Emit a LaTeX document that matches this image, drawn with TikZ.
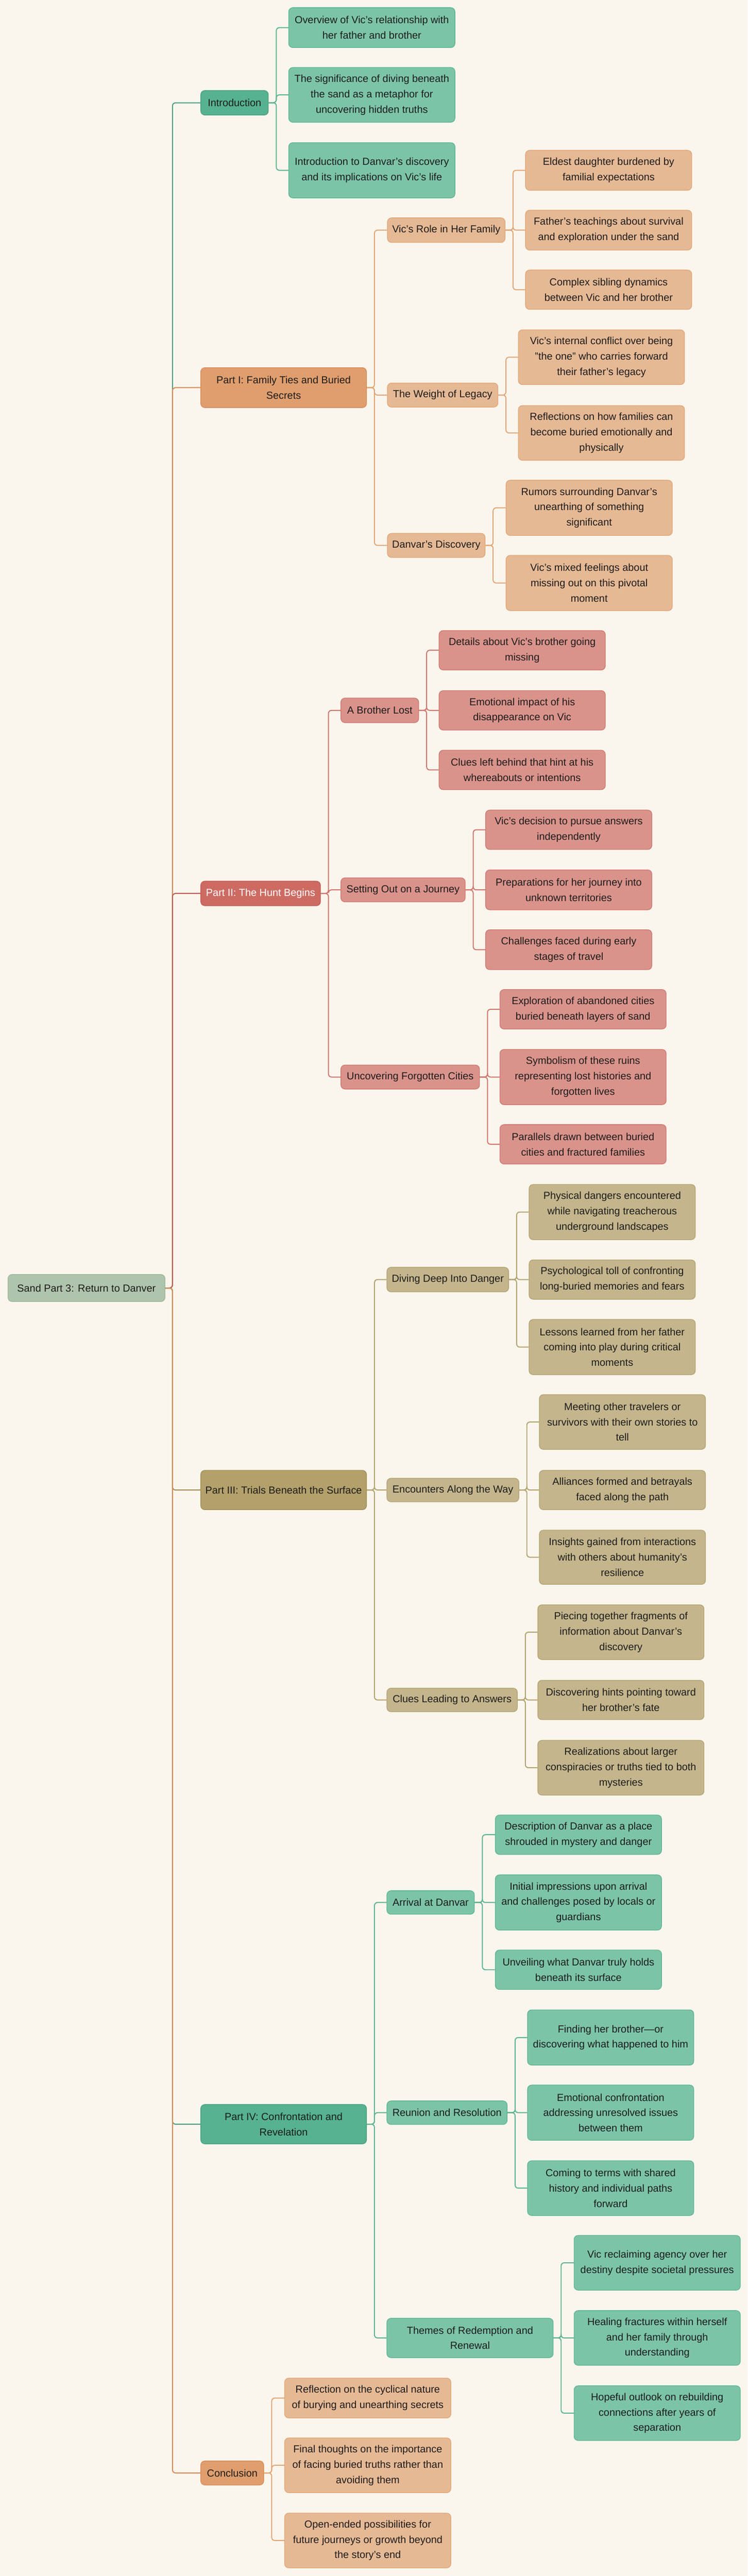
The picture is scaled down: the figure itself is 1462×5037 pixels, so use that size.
\documentclass[tikz,border=0pt]{standalone}
\usepackage{fontspec}
\setmainfont{Liberation Sans}
\definecolor{bgc}{HTML}{FAF6EE}
\definecolor{txt}{HTML}{1C1C1C}
\definecolor{rootF}{HTML}{AFC4AC}
\definecolor{rootD}{HTML}{9EB89B}
\definecolor{gM}{HTML}{56B290}
\definecolor{gMD}{HTML}{4CA07F}
\definecolor{gL}{HTML}{7CC4A8}
\definecolor{gLD}{HTML}{5DB592}
\definecolor{oM}{HTML}{E09E6E}
\definecolor{oMD}{HTML}{D98B55}
\definecolor{oL}{HTML}{E6B995}
\definecolor{oLD}{HTML}{E2A674}
\definecolor{rM}{HTML}{CD6B63}
\definecolor{rMD}{HTML}{C45A52}
\definecolor{rL}{HTML}{DA938B}
\definecolor{rLD}{HTML}{D2766D}
\definecolor{kM}{HTML}{B3A06A}
\definecolor{kMD}{HTML}{A38F57}
\definecolor{kL}{HTML}{C4B58C}
\definecolor{kLD}{HTML}{B3A46F}
\newcommand\fsz{\fontsize{20pt}{30pt}\selectfont}
\begin{document}
\begin{tikzpicture}[x=1pt,y=-1pt,
  box/.style={rectangle, rounded corners=8pt, line width=1.3pt, align=center,
    inner xsep=5pt, inner ysep=0pt, anchor=west, font=\fsz, text=txt},
  rootbox/.style={box, fill=rootF, draw=rootD},
  mG/.style={box, fill=gM, draw=gMD},
  lG/.style={box, fill=gL, draw=gLD},
  mO/.style={box, fill=oM, draw=oMD},
  lO/.style={box, fill=oL, draw=oLD},
  mR/.style={box, fill=rM, draw=rMD, text=white},
  lR/.style={box, fill=rL, draw=rLD},
  mK/.style={box, fill=kM, draw=kMD},
  lK/.style={box, fill=kL, draw=kLD},
  leaf/.style={minimum width=325pt},
  conn/.style={line width=2pt, rounded corners=6pt}
]
\fill[bgc] (0,0) rectangle (1462,5037);
\useasboundingbox (0,0) rectangle (1462,5037);

% ---------------- nodes ----------------
\node[rootbox, minimum width=307pt, minimum height=53pt] (root) at (15,2518.5) {Sand Part 3: Return to Danver};

% Introduction
\node[mG, minimum width=132pt, minimum height=48pt] (intro) at (392,201) {Introduction};
\node[lG, leaf, minimum height=78pt] (i1) at (564,54) {Overview of Vic's relationship with\\her father and brother};
\node[lG, leaf, minimum height=107pt] (i2) at (564,185.5) {The significance of diving beneath\\the sand as a metaphor for\\uncovering hidden truths};
\node[lG, leaf, minimum height=108pt] (i3) at (564,333) {Introduction to Danvar’s discovery\\and its implications on Vic's life};

% Part I
\node[mO, minimum width=324pt, minimum height=78pt] (p1) at (392,758) {Part I: Family Ties and Buried\\Secrets};
\node[lO, minimum width=230pt, minimum height=48pt] (p1a) at (757,450) {Vic's Role in Her Family};
\node[lO, leaf, minimum height=78pt] (p1a1) at (1027,333) {Eldest daughter burdened by\\familial expectations};
\node[lO, leaf, minimum height=78pt] (p1a2) at (1027,450) {Father’s teachings about survival\\and exploration under the sand};
\node[lO, leaf, minimum height=77pt] (p1a3) at (1027,566.5) {Complex sibling dynamics\\between Vic and her brother};
\node[lO, minimum width=216pt, minimum height=47pt] (p1b) at (757,772.5) {The Weight of Legacy};
\node[lO, leaf, minimum height=107pt] (p1b1) at (1013,698.5) {Vic's internal conflict over being\\"the one" who carries forward\\their father’s legacy};
\node[lO, leaf, minimum height=107pt] (p1b2) at (1013,846.5) {Reflections on how families can\\become buried emotionally and\\physically};
\node[lO, minimum width=191pt, minimum height=47pt] (p1c) at (757,1066.5) {Danvar’s Discovery};
\node[lO, leaf, minimum height=108pt] (p1c1) at (989,993) {Rumors surrounding Danvar’s\\unearthing of something\\significant};
\node[lO, leaf, minimum height=108pt] (p1c2) at (989,1140) {Vic’s mixed feelings about\\missing out on this pivotal\\moment};

% Part II
\node[mR, minimum width=234pt, minimum height=48pt] (p2) at (392,1747) {Part II: The Hunt Begins};
\node[lR, minimum width=152pt, minimum height=48pt] (p2a) at (666,1389) {A Brother Lost};
\node[lR, leaf, minimum height=77pt] (p2a1) at (858,1271.5) {Details about Vic’s brother going\\missing};
\node[lR, leaf, minimum height=77pt] (p2a2) at (858,1389) {Emotional impact of his\\disappearance on Vic};
\node[lR, leaf, minimum height=77pt] (p2a3) at (858,1505.5) {Clues left behind that hint at his\\whereabouts or intentions};
\node[lR, minimum width=243pt, minimum height=47pt] (p2b) at (666,1740) {Setting Out on a Journey};
\node[lR, leaf, minimum height=77pt] (p2b1) at (949,1622.5) {Vic’s decision to pursue answers\\independently};
\node[lR, leaf, minimum height=78pt] (p2b2) at (949,1740) {Preparations for her journey into\\unknown territories};
\node[lR, leaf, minimum height=78pt] (p2b3) at (949,1857) {Challenges faced during early\\stages of travel};
\node[lR, minimum width=271pt, minimum height=47pt] (p2c) at (666,2106) {Uncovering Forgotten Cities};
\node[lR, leaf, minimum height=77pt] (p2c1) at (977,1973.5) {Exploration of abandoned cities\\buried beneath layers of sand};
\node[lR, leaf, minimum height=108pt] (p2c2) at (977,2106) {Symbolism of these ruins\\representing lost histories and\\forgotten lives};
\node[lR, leaf, minimum height=77pt] (p2c3) at (977,2237.5) {Parallels drawn between buried\\cities and fractured families};

% Part III
\node[mK, minimum width=324pt, minimum height=77pt] (p3) at (392,2913.5) {Part III: Trials Beneath the Surface};
\node[lK, minimum width=238pt, minimum height=48pt] (p3a) at (756,2502) {Diving Deep Into Danger};
\node[lK, leaf, minimum height=108pt] (p3a1) at (1034,2370) {Physical dangers encountered\\while navigating treacherous\\underground landscapes};
\node[lK, leaf, minimum height=77pt] (p3a2) at (1034,2502) {Psychological toll of confronting\\long-buried memories and fears};
\node[lK, leaf, minimum height=108pt] (p3a3) at (1034,2634) {Lessons learned from her father\\coming into play during critical\\moments};
\node[lK, minimum width=258pt, minimum height=46pt] (p3b) at (756,2913.5) {Encounters Along the Way};
\node[lK, leaf, minimum height=107pt] (p3b1) at (1054,2780.5) {Meeting other travelers or\\survivors with their own stories to\\tell};
\node[lK, leaf, minimum height=77pt] (p3b2) at (1054,2913.5) {Alliances formed and betrayals\\faced along the path};
\node[lK, leaf, minimum height=106pt] (p3b3) at (1054,3045) {Insights gained from interactions\\with others about humanity’s\\resilience};
\node[lK, minimum width=255pt, minimum height=46pt] (p3c) at (756,3324) {Clues Leading to Answers};
\node[lK, leaf, minimum height=107pt] (p3c1) at (1051,3191.5) {Piecing together fragments of\\information about Danvar’s\\discovery};
\node[lK, leaf, minimum height=77pt] (p3c2) at (1051,3324) {Discovering hints pointing toward\\her brother’s fate};
\node[lK, leaf, minimum height=107pt] (p3c3) at (1051,3456.5) {Realizations about larger\\conspiracies or truths tied to both\\mysteries};

% Part IV
\node[mG, minimum width=324pt, minimum height=77pt] (p4) at (392,4153.5) {Part IV: Confrontation and\\Revelation};
\node[lG, minimum width=171pt, minimum height=46pt] (p4a) at (756,3720) {Arrival at Danvar};
\node[lG, leaf, minimum height=77pt] (p4a1) at (968,3587.5) {Description of Danvar as a place\\shrouded in mystery and danger};
\node[lG, leaf, minimum height=108pt] (p4a2) at (968,3720) {Initial impressions upon arrival\\and challenges posed by locals or\\guardians};
\node[lG, leaf, minimum height=77pt] (p4a3) at (968,3851.5) {Unveiling what Danvar truly holds\\beneath its surface};
\node[lG, minimum width=235pt, minimum height=46pt] (p4b) at (756,4131) {Reunion and Resolution};
\node[lG, leaf, minimum height=108pt] (p4b1) at (1031,3984) {Finding her brother—or\\discovering what happened to him};
\node[lG, leaf, minimum height=108pt] (p4b2) at (1031,4131) {Emotional confrontation\\addressing unresolved issues\\between them};
\node[lG, leaf, minimum height=107pt] (p4b3) at (1031,4278.5) {Coming to terms with shared\\history and individual paths\\forward};
\node[lG, minimum width=325pt, minimum height=77pt] (p4c) at (756,4571.5) {Themes of Redemption and\\Renewal};
\node[lG, leaf, minimum height=107pt] (p4c1) at (1122,4424.5) {Vic reclaiming agency over her\\destiny despite societal pressures};
\node[lG, leaf, minimum height=107pt] (p4c2) at (1122,4571.5) {Healing fractures within herself\\and her family through\\understanding};
\node[lG, leaf, minimum height=107pt] (p4c3) at (1122,4718.5) {Hopeful outlook on rebuilding\\connections after years of\\separation};

% Conclusion
\node[mO, minimum width=123pt, minimum height=47pt] (con) at (392,4835.5) {Conclusion};
\node[lO, leaf, minimum height=78pt] (con1) at (556,4689) {Reflection on the cyclical nature\\of burying and unearthing secrets};
\node[lO, leaf, minimum height=107pt] (con2) at (556,4820.5) {Final thoughts on the importance\\of facing buried truths rather than\\avoiding them};
\node[lO, leaf, minimum height=107pt] (con3) at (556,4967.5) {Open-ended possibilities for\\future journeys or growth beyond\\the story’s end};

% ---------------- connectors ----------------
\draw[conn, gMD] (root.east) -- ++(14,0) |- (intro.west);
\draw[conn, oMD] (root.east) -- ++(14,0) |- (p1.west);
\draw[conn, rMD] (root.east) -- ++(14,0) |- (p2.west);
\draw[conn, kMD] (root.east) -- ++(14,0) |- (p3.west);
\draw[conn, gMD] (root.east) -- ++(14,0) |- (p4.west);
\draw[conn, oMD] (root.east) -- ++(14,0) |- (con.west);

\foreach \c in {i1,i2,i3} \draw[conn, gLD] (intro.east) -- ++(15,0) |- (\c.west);
\foreach \c in {p1a,p1b,p1c} \draw[conn, oLD] (p1.east) -- ++(15,0) |- (\c.west);
\foreach \c in {p1a1,p1a2,p1a3} \draw[conn, oLD] (p1a.east) -- ++(15,0) |- (\c.west);
\foreach \c in {p1b1,p1b2} \draw[conn, oLD] (p1b.east) -- ++(15,0) |- (\c.west);
\foreach \c in {p1c1,p1c2} \draw[conn, oLD] (p1c.east) -- ++(15,0) |- (\c.west);
\foreach \c in {p2a,p2b,p2c} \draw[conn, rLD] (p2.east) -- ++(15,0) |- (\c.west);
\foreach \c in {p2a1,p2a2,p2a3} \draw[conn, rLD] (p2a.east) -- ++(15,0) |- (\c.west);
\foreach \c in {p2b1,p2b2,p2b3} \draw[conn, rLD] (p2b.east) -- ++(15,0) |- (\c.west);
\foreach \c in {p2c1,p2c2,p2c3} \draw[conn, rLD] (p2c.east) -- ++(15,0) |- (\c.west);
\foreach \c in {p3a,p3b,p3c} \draw[conn, kLD] (p3.east) -- ++(15,0) |- (\c.west);
\foreach \c in {p3a1,p3a2,p3a3} \draw[conn, kLD] (p3a.east) -- ++(15,0) |- (\c.west);
\foreach \c in {p3b1,p3b2,p3b3} \draw[conn, kLD] (p3b.east) -- ++(15,0) |- (\c.west);
\foreach \c in {p3c1,p3c2,p3c3} \draw[conn, kLD] (p3c.east) -- ++(15,0) |- (\c.west);
\foreach \c in {p4a,p4b,p4c} \draw[conn, gLD] (p4.east) -- ++(15,0) |- (\c.west);
\foreach \c in {p4a1,p4a2,p4a3} \draw[conn, gLD] (p4a.east) -- ++(15,0) |- (\c.west);
\foreach \c in {p4b1,p4b2,p4b3} \draw[conn, gLD] (p4b.east) -- ++(15,0) |- (\c.west);
\foreach \c in {p4c1,p4c2,p4c3} \draw[conn, gLD] (p4c.east) -- ++(15,0) |- (\c.west);
\foreach \c in {con1,con2,con3} \draw[conn, oLD] (con.east) -- ++(15,0) |- (\c.west);
\end{tikzpicture}
\end{document}
